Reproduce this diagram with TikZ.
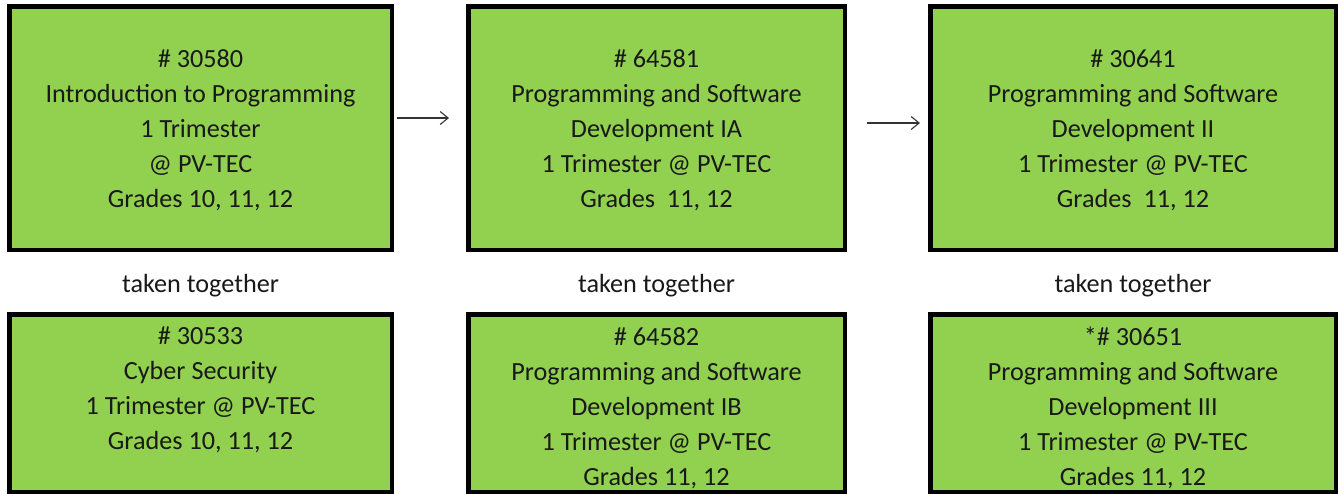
\documentclass[tikz,border=0pt]{standalone}
\usepackage{fontspec}
\setmainfont{Carlito}
\usetikzlibrary{arrows.meta}
\definecolor{boxgreen}{HTML}{92D050}
\begin{document}
\begin{tikzpicture}[x=1pt,y=-1pt,
  course/.style={draw=black,fill=boxgreen,line width=4.5pt},
  ctext/.style={align=center,font=\fontsize{26.2}{35}\selectfont,text=black!90,inner sep=0pt},
  label/.style={font=\fontsize{26.2}{35}\selectfont,text=black!90,inner sep=0pt},
  flow/.style={line width=1.1pt,draw=black!80,-{Straight Barb[length=8pt,width=13pt,line width=1.1pt]}}]
\useasboundingbox (0,0) rectangle (1338,493);
% top row boxes
\draw[course] (9.25,6.25) rectangle (391.75,249.75);
\draw[course] (468.25,6.25) rectangle (844.75,249.75);
\draw[course] (930.25,6.25) rectangle (1335.75,249.75);
% bottom row boxes
\draw[course] (9.25,314.25) rectangle (391.75,492);
\draw[course] (468.25,314.25) rectangle (844.75,492);
\draw[course] (930.25,314.25) rectangle (1335.75,492);
% top texts
\node[ctext] (t1) at (200.5,130) {\# 30580\\Introduction to Programming\\1 Trimester\\@ PV-TEC\\Grades 10, 11, 12};
\node[ctext] (t2) at (656.5,130) {\# 64581\\Programming and Software\\Development IA\\1 Trimester @ PV-TEC\\Grades\ \ 11, 12};
\node[ctext] (t3) at (1133,130) {\# 30641\\Programming and Software\\Development II\\1 Trimester @ PV-TEC\\Grades\ \ 11, 12};
% labels
\node[label] (l1) at (200.5,286) {taken together};
\node[label] (l2) at (656.5,286) {taken together};
\node[label] (l3) at (1133,286) {taken together};
% bottom texts
\node[ctext,anchor=north] (b1) at (200.5,327) {\# 30533\\Cyber Security\\1 Trimester @ PV-TEC\\Grades 10, 11, 12};
\node[ctext,anchor=north] (b2) at (656.5,327) {\# 64582\\Programming and Software\\Development IB\\1 Trimester @ PV-TEC\\Grades 11, 12};
\node[ctext,anchor=north] (b3) at (1133,327) {*\# 30651\\Programming and Software\\Development III\\1 Trimester @ PV-TEC\\Grades 11, 12};
% arrows
\coordinate (a1s) at (397,118);
\coordinate (a1e) at (449,118);
\coordinate (a2s) at (867,123);
\coordinate (a2e) at (920,123);
\draw[flow] (a1s) -- (a1e);
\draw[flow] (a2s) -- (a2e);
\end{tikzpicture}
\end{document}
